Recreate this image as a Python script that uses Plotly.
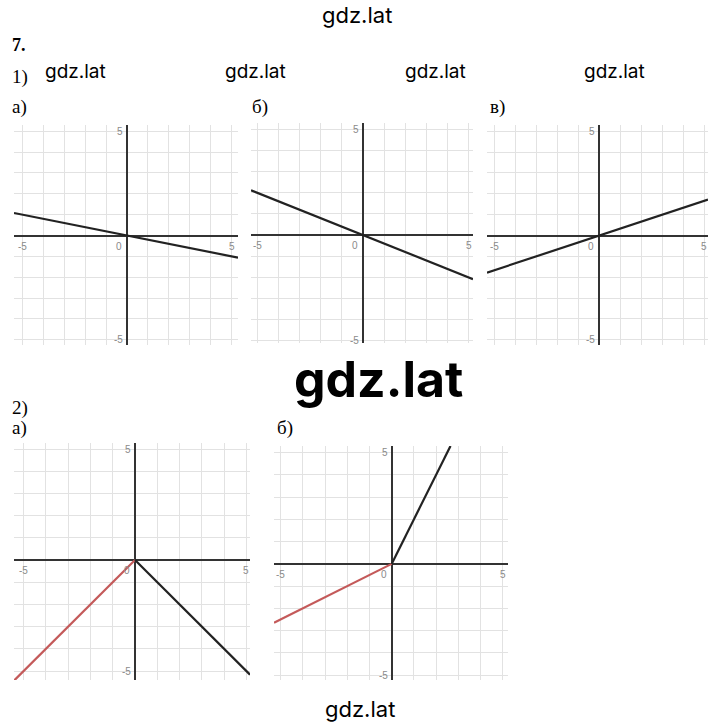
import plotly.graph_objects as go

W, H = 720, 724

# ---- data ----
# 1) а) y = -x/5
p1a_x = [-5.4, 0, 5.3]
p1a_y = [1.08, 0, -1.06]
# 1) б) y = -2x/5
p1b_x = [-5.3, 0, 5.2]
p1b_y = [2.12, 0, -2.08]
# 1) в) y = x/3
p1c_x = [-5.35, 0, 5.17]
p1c_y = [-1.78, 0, 1.72]
# 2) а) y = -|x|
p2a_red_x = [-5.43, 0]
p2a_red_y = [-5.43, 0]
p2a_blk_x = [0, 5.16]
p2a_blk_y = [0, -5.16]
# 2) б) y = 2x (x>=0), y = x/2 (x<0)
p2b_red_x = [-5.3, 0]
p2b_red_y = [-2.65, 0]
p2b_blk_x = [0, 2.65]
p2b_blk_y = [0, 5.3]

tick_vals = [-5, 0, 5]
tick_text = ["-5", "0", "5"]

# panel boxes in pixels: (left, right, top, bottom), axis ranges
panels = [
    dict(box=(14, 238, 125, 345), xr=[-5.4, 5.3], yr=[-5.25, 5.3]),
    dict(box=(251, 473, 123, 343), xr=[-5.3, 5.2], yr=[-5.1, 5.3]),
    dict(box=(487, 708, 125, 345), xr=[-5.35, 5.17], yr=[-5.25, 5.3]),
    dict(box=(14, 250, 443, 680), xr=[-5.43, 5.16], yr=[-5.4, 5.27]),
    dict(box=(274, 508, 446, 680), xr=[-5.3, 5.24], yr=[-5.22, 5.3]),
]

BLACK = "#222222"
RED = "#c45a5a"

series = [
    [(p1a_x, p1a_y, BLACK)],
    [(p1b_x, p1b_y, BLACK)],
    [(p1c_x, p1c_y, BLACK)],
    [(p2a_red_x, p2a_red_y, RED), (p2a_blk_x, p2a_blk_y, BLACK)],
    [(p2b_red_x, p2b_red_y, RED), (p2b_blk_x, p2b_blk_y, BLACK)],
]

fig = go.Figure()
layout = dict(
    width=W, height=H,
    margin=dict(l=0, r=0, t=0, b=0),
    paper_bgcolor="white", plot_bgcolor="white",
    showlegend=False,
)
annotations = []

for i, (p, ser) in enumerate(zip(panels, series), start=1):
    l, r, t, b = p["box"]
    xa = "xaxis" if i == 1 else f"xaxis{i}"
    ya = "yaxis" if i == 1 else f"yaxis{i}"
    xref = "x" if i == 1 else f"x{i}"
    yref = "y" if i == 1 else f"y{i}"
    common = dict(
        tick0=0, dtick=1, showgrid=True, gridcolor="#e2e2e2", gridwidth=1,
        zeroline=True, zerolinecolor="#333333", zerolinewidth=1.5,
        showticklabels=False, ticks="", showline=False, fixedrange=True,
    )
    layout[xa] = dict(domain=[l / W, r / W], range=p["xr"], anchor=yref, **common)
    layout[ya] = dict(domain=[1 - b / H, 1 - t / H], range=p["yr"], anchor=xref, **common)
    for xs, ys, col in ser:
        fig.add_trace(go.Scatter(x=xs, y=ys, mode="lines", xaxis=xref, yaxis=yref,
                                 line=dict(color=col, width=2.2), hoverinfo="skip",
                                 cliponaxis=True))
    # tick labels along axes
    tf = dict(family="Arial, Liberation Sans, sans-serif", size=10, color="#8a8a8a")
    for v, s in zip(tick_vals, tick_text):
        if v == 0:
            annotations.append(dict(x=0, y=0, xref=xref, yref=yref, text=s, showarrow=False,
                                    xanchor="right", yanchor="top", xshift=-3, yshift=-3, font=tf))
        else:
            annotations.append(dict(x=v, y=0, xref=xref, yref=yref, text=s, showarrow=False,
                                    xanchor="center", yanchor="top", yshift=-3, font=tf))
            annotations.append(dict(x=0, y=v, xref=xref, yref=yref, text=s, showarrow=False,
                                    xanchor="right", yanchor="middle", xshift=-2, font=tf))

serif = "Liberation Serif, DejaVu Serif, serif"
sans = "Inter, Roboto, Liberation Sans, sans-serif"

def txt(x, y, s, family, size, bold=False, anchor="left"):
    if bold:
        s = f"<b>{s}</b>"
    annotations.append(dict(x=x / W, y=1 - y / H, xref="paper", yref="paper", text=s,
                            showarrow=False, xanchor=anchor, yanchor="middle",
                            font=dict(family=family, size=size, color="#000000")))

txt(357, 15, "gdz.lat", sans, 22, anchor="center")
txt(10, 45, "7.", serif, 18, bold=True)
txt(10, 77, "1)", serif, 19)
for cx in [75, 255, 435, 614]:
    txt(cx, 71, "gdz.lat", sans, 19, anchor="center")
txt(10, 107, "а)", serif, 19)
txt(250, 107, "б)", serif, 19)
txt(488, 107, "в)", serif, 19)
txt(378, 379, "gdz.lat", sans, 50, bold=True, anchor="center")
txt(10, 408, "2)", serif, 19)
txt(10, 428, "а)", serif, 19)
txt(275, 428, "б)", serif, 19)
txt(360, 709, "gdz.lat", sans, 22, anchor="center")

layout["annotations"] = annotations
fig.update_layout(**layout)
fig.write_html("out.html", config={"displayModeBar": False},
               post_script="document.body.style.margin='0';document.body.style.overflow='hidden';")
